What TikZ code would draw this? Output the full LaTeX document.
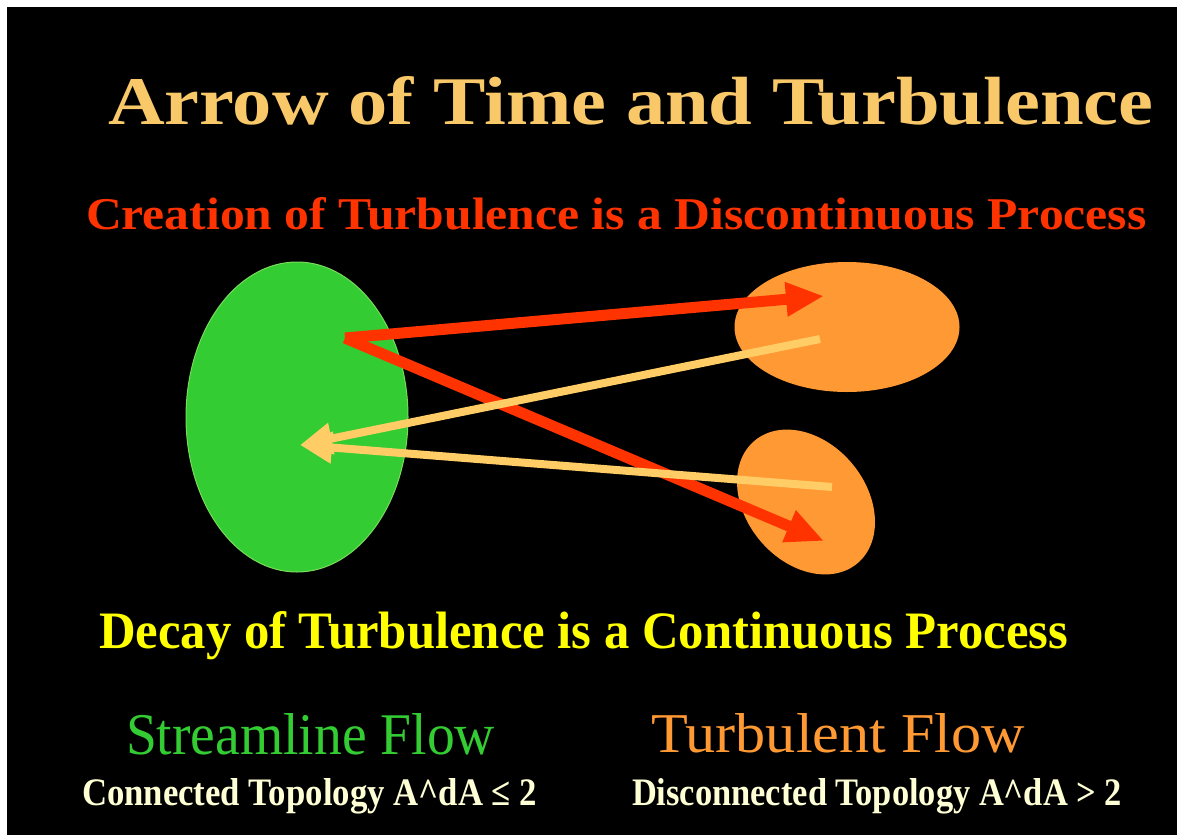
\documentclass[tikz,border=0pt]{standalone}
\usepackage{fontspec}
\setmainfont{Liberation Serif}
\usetikzlibrary{arrows.meta,shapes.geometric}
\definecolor{titlegold}{RGB}{248,200,105}
\definecolor{redorange}{RGB}{255,51,0}
\definecolor{decayyellow}{RGB}{255,255,0}
\definecolor{streamgreen}{RGB}{51,204,51}
\definecolor{streamedge}{RGB}{120,220,90}
\definecolor{turborange}{RGB}{255,153,51}
\definecolor{lightarrow}{RGB}{255,204,102}
\definecolor{cream}{RGB}{255,255,214}
\newcommand{\fitbox}[3]{\resizebox{#1pt}{#2pt}{#3}}
\begin{document}
\begin{tikzpicture}[x=1pt,y=-1pt,
  txt/.style={inner sep=0pt, outer sep=0pt, anchor=base west},
  blob/.style={ellipse, inner sep=0pt, outer sep=0pt},
  redarrow/.style={draw=redorange, line width=11pt, -{Triangle[length=38pt,width=32pt]}},
  lightarr/.style={draw=lightarrow, line width=8pt, -{Triangle[length=32pt,width=30pt]}}]
\useasboundingbox (0,0) rectangle (1177,835);
\fill[white] (0,0) rectangle (1177,835);
\fill[black] (7,7) rectangle (1177,835);
% texts
\node[txt, text=titlegold] (title) at (108,124) {\bfseries\fitbox{1045}{48}{Arrow of Time and Turbulence}};
\node[txt, text=redorange] (creation) at (86,229) {\bfseries\fitbox{1060}{32}{Creation of Turbulence is a Discontinuous Process}};
\node[txt, text=decayyellow] (decay) at (99,648) {\bfseries\fitbox{969}{37}{Decay of Turbulence is a Continuous Process}};
\node[txt, text=streamgreen] (stream) at (126,754) {\fitbox{369}{41}{Streamline Flow}};
\node[txt, text=turborange] (turb) at (651,752) {\fitbox{374}{39}{Turbulent Flow}};
\node[txt, text=cream] (conn) at (82,805) {\bfseries\fitbox{455}{27}{Connected Topology A\^{}dA ≤ 2}};
\node[txt, text=cream] (disc) at (632,805) {\bfseries\fitbox{490}{27}{Disconnected Topology A\^{}dA > 2}};
% ellipses
\node[blob, fill=streamgreen, draw=streamedge, line width=1pt, minimum width=222pt, minimum height=310pt] (green) at (297,417) {};
\node[blob, fill=turborange, minimum width=225pt, minimum height=130pt] (orangetop) at (847,327) {};
\node[blob, fill=turborange, minimum width=160pt, minimum height=120pt, rotate=-50] (orangebot) at (806,502) {};
% arrow end points
\coordinate (src) at (345,338);
\coordinate (t1) at (824,296);
\coordinate (t2) at (824,541);
\coordinate (b1) at (820,339);
\coordinate (b2) at (832,487);
\coordinate (sink) at (300,445);
% arrows
\draw[redarrow] (src) -- (t1);
\draw[redarrow] (src) -- (t2);
\draw[lightarr] (b1) -- (sink);
\draw[lightarr] (b2) -- (sink);
\end{tikzpicture}
\end{document}
